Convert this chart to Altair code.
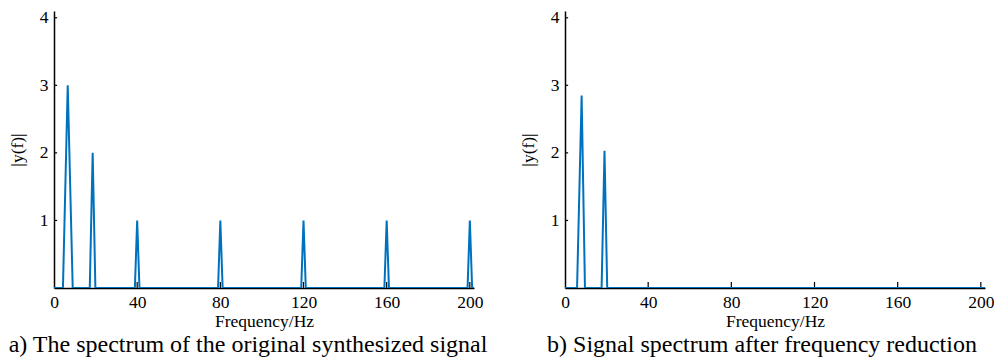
import altair as alt
import pandas as pd

# ---- data ----
left_freq = [0, 4.3, 6.6, 9.0, 17.2, 18.6, 19.9, 38.9, 40.0, 41.1, 78.9, 80.0, 81.1,
             118.9, 120.0, 121.1, 158.9, 160.0, 161.1, 198.9, 200.0, 201.1, 202]
left_amp = [0, 0, 3.0, 0, 0, 2.0, 0, 0, 1.0, 0, 0, 1.0, 0,
            0, 1.0, 0, 0, 1.0, 0, 0, 1.0, 0, 0]
right_freq = [0, 5.8, 8.0, 9.6, 17.6, 19.0, 20.3, 202]
right_amp = [0, 0, 2.85, 0, 0, 2.03, 0, 0]

x_ticks = [0, 40, 80, 120, 160, 200]
y_ticks = [1, 2, 3, 4]
captions = ["a) The spectrum of the original synthesized signal",
            "b) Signal spectrum after frequency reduction"]

FONT = "Liberation Serif"
BLUE = "#0072BD"
W, H = 420, 277
XTICK_LEN = 0.09   # inward tick length in y units
YTICK_LEN = 1.5    # inward tick length in x units


def panel(freq, amp, caption, cap_dx):
    df = pd.DataFrame({"f": freq, "a": amp})
    xs = alt.Scale(domain=[0, 202], nice=False, zero=False)
    ys = alt.Scale(domain=[0, 4.1], nice=False)

    line = alt.Chart(df).mark_line(color=BLUE, strokeWidth=2, clip=True).encode(
        x=alt.X("f:Q", scale=xs,
                axis=alt.Axis(values=x_ticks, format="d", title="Frequency/Hz",
                              labelPadding=5, titlePadding=2, labelFlush=False)),
        y=alt.Y("a:Q", scale=ys,
                axis=alt.Axis(values=y_ticks, format="d", title="|y(f)|",
                              labelPadding=6, titlePadding=13)),
    )
    xdf = pd.DataFrame({"f": x_ticks[1:], "a": [0] * 5, "a2": [XTICK_LEN] * 5})
    xt = alt.Chart(xdf).mark_rule(color="black", strokeWidth=1.2).encode(
        x=alt.X("f:Q", scale=xs),
        y=alt.Y("a:Q", scale=ys),
        y2="a2:Q",
    )
    ydf = pd.DataFrame({"a": y_ticks, "f": [0] * 4, "f2": [YTICK_LEN] * 4})
    yt = alt.Chart(ydf).mark_rule(color="black", strokeWidth=1.2).encode(
        y=alt.Y("a:Q", scale=ys),
        x=alt.X("f:Q", scale=xs),
        x2="f2:Q",
    )
    return alt.layer(xt, yt, line).properties(
        width=W, height=H,
        title=alt.TitleParams(caption, orient="bottom", anchor="middle",
                              font=FONT, fontSize=24, fontWeight="normal",
                              color="black", offset=3, dx=cap_dx),
    )


chart = alt.hconcat(
    panel(left_freq, left_amp, captions[0], -16),
    panel(right_freq, right_amp, captions[1], -13),
    spacing=91,
    bounds="flush",
).properties(
    padding={"left": 0, "top": 0, "right": 0, "bottom": 0},
    background="white",
).configure_view(stroke=None).configure_axis(
    grid=False, ticks=False, tickSize=0,
    domainColor="black", domainWidth=1.5,
    labelFont=FONT, labelFontSize=17.5, labelColor="black",
    titleFont=FONT, titleFontSize=17.5, titleFontWeight="normal", titleColor="black",
)

chart.save("out.html", embed_options={"renderer": "svg", "actions": False})
